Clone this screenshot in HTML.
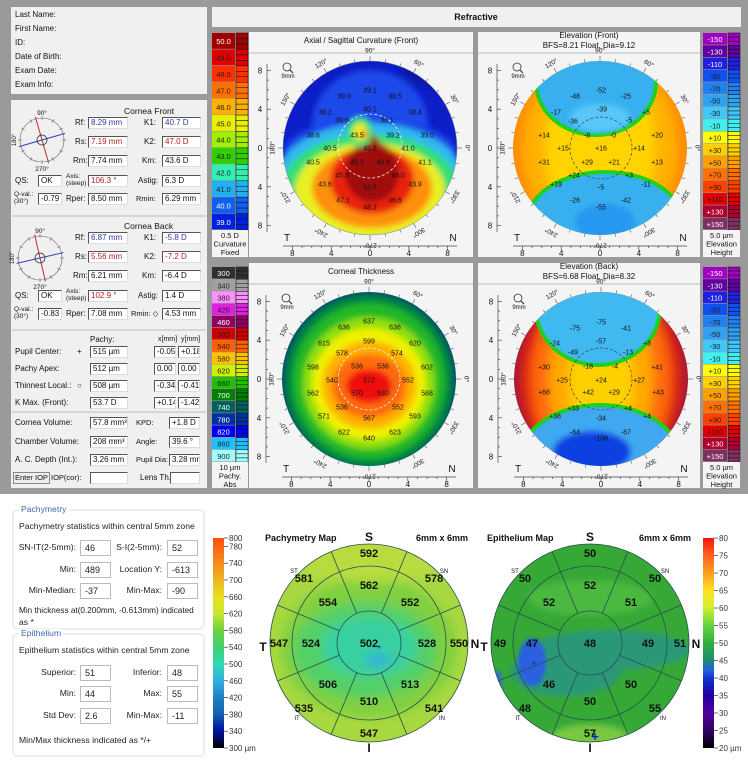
<!DOCTYPE html>
<html><head><meta charset="utf-8">
<style>
*{margin:0;padding:0;box-sizing:border-box}
body{width:748px;height:767px;position:relative;overflow:hidden;background:#fff;font-family:"Liberation Sans",Arial,sans-serif}
#svg{position:absolute;left:0;top:0}
.l{position:absolute;font-size:8px;color:#111;white-space:nowrap;line-height:1}
.f{position:absolute;height:12px;background:#fff;border-top:1px solid #555;border-left:1px solid #555;border-right:1px solid #ddd;border-bottom:1px solid #ddd;font-size:8px;line-height:10px;padding-left:2px;white-space:nowrap;overflow:hidden;color:#111}
.bf{position:absolute;height:16px;background:#fff;border:1px solid #bbb;font-size:9px;line-height:14px;padding-left:4px;color:#222}
.bl{position:absolute;font-size:8.6px;color:#222;white-space:nowrap;line-height:1}
</style></head>
<body>
<svg id="svg" width="748" height="767" xmlns="http://www.w3.org/2000/svg"></svg>
<div id="html"></div>
<script>
// ---------- data ----------
const axialScale=[50,49,48,47,46,45,44,43,42,41,40,39];
const axialColors=['#a00000','#e00000','#ff3000','#ff7000','#ffb000','#e8f000','#a0f000','#30d000','#30f0b0','#20b0f0','#1060f0','#0020e0'];
const elevScale=['-150','-130','-110','-90','-70','-50','-30','-10','+10','+30','+50','+70','+90','+110','+130','+150'];
const elevColors=['#a000c0','#6000a0','#2020e0','#1050f0','#2080f0','#30a0f0','#40c8f8','#40f0f0','#ffff00','#ffd000','#ffa000','#ff7000','#ff4000','#e00000','#b00030','#803060'];
const thickScale=[300,340,380,420,460,500,540,580,620,660,700,740,780,820,860,900];
const thickColors=['#303030','#a0a0a0','#ff90ff','#e020e0','#900060','#d00000','#ff6000','#ffc000','#d0f000','#20c000','#008000','#006060','#0030a0','#0000f0','#20c0ff','#a0ffff'];
const pachyCenter=502;
const pachyInner=[562,552,528,513,510,506,524,554]; // S,SN,N,IN,I,IT,T,ST
const pachyOuter=[592,578,550,541,547,535,547,581];
const epiCenter=48;
const epiInner=[52,51,49,50,50,46,47,52];
const epiOuter=[50,50,51,55,57,48,49,50];
const pachyTicks=[800,780,740,700,660,620,580,540,500,460,420,380,340,300];
const epiTicks=[80,75,70,65,60,55,50,45,40,35,30,25,20];
const axialVals=[['39.0',344,96],['39.1',370,90],['38.5',395,96],['38.2',325,112],['40.1',370,109],['38.4',415,112],['39.6',342,120],['38.1',387,120],['38.6',313,135],['43.5',357,135],['39.2',393,135],['39.0',427,135],['40.5',330,148],['45.1',370,148],['41.0',408,148],['40.5',313,162],['45.3',357,162],['49.9',383,162],['41.1',425,162],['45.9',342,175],['48.0',398,175],['43.6',325,184],['52.8',370,187],['43.9',415,184],['47.1',343,200],['46.6',395,200],['48.2',370,207]];
const elevFVals=[['-48',575,96],['-52',601,90],['-25',626,96],['-17',556,112],['-39',602,109],['+5',646,112],['-36',573,121],['-5',629,120],['+14',544,135],['-8',587,135],['-0',613,135],['+20',657,135],['+15',563,148],['+16',601,148],['+14',639,148],['+31',544,162],['+29',587,162],['+21',614,162],['+13',657,162],['+24',574,175],['+3',629,175],['+19',556,184],['-5',601,187],['-11',646,184],['-26',575,200],['-55',601,207],['-42',626,200]];
const elevBVals=[['-75',575,328],['-75',601,322],['-41',626,328],['-24',555,343],['-57',601,341],['+8',647,343],['-49',573,352],['-13',628,352],['+30',544,367],['-18',588,366],['-4',615,366],['+41',657,367],['+25',562,380],['+24',601,380],['+27',639,380],['+68',544,392],['+42',588,392],['+29',614,392],['+43',658,392],['+33',573,408],['+4',628,408],['+38',555,416],['-34',601,418],['+4',647,416],['-64',575,432],['-106',601,438],['-67',626,432]];
const thickVals=[['637',369,321],['636',344,327],['636',395,327],['615',324,343],['599',369,341],['620',415,343],['578',342,353],['574',397,353],['598',313,367],['536',357,366],['536',383,366],['602',427,367],['540',332,380],['572',369,380],['552',408,380],['562',313,393],['570',357,393],['530',383,393],['588',427,393],['536',342,407],['552',398,407],['571',324,416],['567',369,418],['593',415,416],['622',344,432],['623',395,432],['640',369,438]];

// ---------- helpers ----------
const NS='http://www.w3.org/2000/svg';
const svg=document.getElementById('svg');
const H=document.getElementById('html');
function mk(tag,attrs,parent,name){
  const el=document.createElementNS(NS,tag);
  for(const k in attrs) el.setAttribute(k,attrs[k]);
  
  
  (parent||svg).appendChild(el);return el;
}
function tx(x,y,s,name,attrs,parent){
  const a=Object.assign({x:x,y:y,'font-size':7,'font-family':'Liberation Sans, Arial, sans-serif','text-anchor':'middle',fill:'#111'},attrs||{});
  const t=mk('text',a,parent,name);t.textContent=s;return t;
}
function lbl(x,y,s,name,extra){
  const d=document.createElement('div');d.className='l';d.style.left=x+'px';d.style.top=(y-4)+'px';d.textContent=s;
  if(extra) d.style.cssText+=extra;
  
  
  H.appendChild(d);return d;
}
function fld(x,y,w,s,name,color){
  const d=document.createElement('div');d.className='f';d.style.left=x+'px';d.style.top=(y-6)+'px';d.style.width=w+'px';d.textContent=s;
  if(color) d.style.color=color;
  
  
  H.appendChild(d);return d;
}
function blbl(x,y,s,name,right){
  const d=document.createElement('div');d.className='bl';d.style.top=(y-5)+'px';d.textContent=s;
  if(right){d.style.right=(748-x)+'px';}else d.style.left=x+'px';
  
  
  H.appendChild(d);return d;
}
function bfld(x,y,s,name){
  const d=document.createElement('div');d.className='bf';d.style.left=x+'px';d.style.top=(y-8)+'px';d.style.width='31px';d.textContent=s;
  
  
  H.appendChild(d);return d;
}

// ---------- background panels ----------
mk('rect',{x:0,y:0,width:748,height:494,fill:'#9a9a9a'},svg,'top-background');
mk('rect',{x:11,y:7,width:196,height:87,fill:'#f0f0f0'},svg,'patient-info-panel');
mk('rect',{x:11,y:100,width:196,height:388,fill:'#f0f0f0'},svg,'measurement-panel');
mk('rect',{x:212,y:7,width:529,height:20,fill:'#f0f0f0'},svg,'refractive-header');
tx(476,20,'Refractive','refractive-title',{'font-size':9,'font-weight':'bold'});
const defs=mk('defs',{},svg,'defs');
const flt=mk('filter',{id:'blur',x:'-20%',y:'-20%',width:'140%',height:'140%'},defs,'blur-filter');
mk('feGaussianBlur',{stdDeviation:3},flt,'blur');
const flt2=mk('filter',{id:'blur2',x:'-20%',y:'-20%',width:'140%',height:'140%'},defs,'blur-filter-2');
mk('feGaussianBlur',{stdDeviation:5},flt2,'blur2');
const flt3=mk('filter',{id:'blur1',x:'-20%',y:'-20%',width:'140%',height:'140%'},defs,'blur-filter-1');
mk('feGaussianBlur',{stdDeviation:1.5},flt3,'blur1');

function colorBar(x,y,w,h,vals,cols,name,footer){
  const n=vals.length,bh=h/n;
  vals.forEach((v,i)=>{
    mk('rect',{x:x,y:y+i*bh,width:w,height:bh-0.6,fill:cols[i]},svg,'colorbar-box');
    tx(x+w/2,y+i*bh+bh/2+3,String(v),'colorbar-label',{'font-size':7.5,fill:(['#303030','#900060','#0030a0','#0000f0','#006060','#2020e0','#6000a0','#a000c0','#803060','#b00030','#a00000','#0020e0','#1060f0','#008000'].includes(cols[i])?'#fff':'#222')});
    for(let k=0;k<3;k++){
      mk('rect',{x:x+w+1,y:y+i*bh+k*bh/3,width:12,height:bh/3,fill:cols[i],stroke:'#111','stroke-width':0.5},svg,'colorbar-strip');
    }
  });
  mk('rect',{x:x,y:y+h,width:w+13,height:257-(y+h)+(y>200?231:0),fill:'#f4f4f4'},svg,name+'-footer-bg');
  const fy=y+h;
  footer.forEach((s,i)=>tx(x+(w+13)/2,fy+8+i*8.5,s,name+'-footer-text',{'font-size':7.5}));
}
function mapPanel(x,y,w,h,titles,name){
  mk('rect',{x:x,y:y,width:w,height:h,fill:'#f4f4f4'},svg,name+'-panel');
  titles.forEach((t,i)=>tx(x+w/2,y+11+i*10-(titles.length>1?5:0),t,name+'-title',{'font-size':8}));
  mk('line',{x1:x,x2:x+w,y1:y+21,y2:y+21,stroke:'#bbb'},svg,name+'-title-rule');
}
function mapFrame(cx,cy,r,name){
  mk('line',{x1:cx-103,x2:cx-103,y1:cy-84,y2:cy+84,stroke:'#444','stroke-width':0.7},svg,name+'-y-axis');
  for(let mm=-8;mm<=8;mm+=1){
    const yy=cy+mm*9.7;
    mk('line',{x1:cx-103,x2:cx-(mm%4===0?99:101),y1:yy,y2:yy,stroke:'#444','stroke-width':0.7},svg,name+'-y-tick');
    if(mm%4===0) tx(cx-110,yy+3,String(Math.abs(mm)),name+'-y-tick-label',{'font-size':8});
  }
  mk('line',{x1:cx-87,x2:cx+87,y1:cy+98,y2:cy+98,stroke:'#444','stroke-width':0.7},svg,name+'-x-axis');
  for(let mm=-8;mm<=8;mm+=1){
    const xx=cx+mm*9.7;
    mk('line',{x1:xx,x2:xx,y1:cy+98,y2:cy+(mm%4===0?102:100),stroke:'#444','stroke-width':0.7},svg,name+'-x-tick');
    if(mm%4===0) tx(xx,cy+108,String(Math.abs(mm)),name+'-x-tick-label',{'font-size':8});
  }
  tx(cx-83,cy+93,'T',name+'-temporal-label',{'font-size':10});
  tx(cx+83,cy+93,'N',name+'-nasal-label',{'font-size':10});
  mk('circle',{cx:cx-83,cy:cy-81,r:4,fill:'none',stroke:'#333','stroke-width':0.8},svg,name+'-zoom-icon');
  mk('line',{x1:cx-80,y1:cy-78,x2:cx-77,y2:cy-75,stroke:'#333','stroke-width':1.2},svg,name+'-zoom-handle');
  tx(cx-82,cy-70,'9mm',name+'-zoom-label',{'font-size':6});
  for(let a=0;a<360;a+=10){
    const rad=a*Math.PI/180,l=a%30===0?5:3;
    mk('line',{x1:cx+r*Math.cos(rad),y1:cy-r*Math.sin(rad),x2:cx+(r+l)*Math.cos(rad),y2:cy-(r+l)*Math.sin(rad),stroke:'#555','stroke-width':0.6},svg,name+'-degree-tick');
    if(a%30===0){
      const R=r+11,px=cx+R*Math.cos(rad),py=cy-R*Math.sin(rad);
      tx(px,py+2.5,a+'°',name+'-degree-label',{'font-size':6.5,transform:'rotate('+(90-a)+' '+px+' '+py+')'});
    }
  }
}
function clip(id,cx,cy,r){const c=mk('clipPath',{id:id},defs,'clip');mk('circle',{cx:cx,cy:cy,r:r},c,'clip-circle');}
function layerGroup(id,name){return mk('g',{'clip-path':'url(#'+id+')'},svg,name);}
function blobs(g,list,f){const gg=mk('g',{filter:'url(#'+(f||'blur')+')'},g,'blob-group');list.forEach(b=>mk('ellipse',{cx:b[0],cy:b[1],rx:b[2],ry:b[3],fill:b[4]},gg,'color-region'));return gg;}
function values(list,name){list.forEach(v=>tx(v[1],v[2]+2.5,v[0],name,{'font-size':7}));}

// ---------- top-left axial ----------
colorBar(212,33,23,197,axialScale.map(v=>v.toFixed(1)),axialColors,'axial-colorbar',['0.5 D','Curvature','Fixed']);
mapPanel(249,32,224,225,['Axial / Sagittal Curvature (Front)'],'axial-map');
clip('cA',370,148,87);
let g=layerGroup('cA','axial-map-colors');
mk('rect',{x:270,y:50,width:200,height:200,fill:'#0c1ec8'},g,'axial-base');
blobs(g,[[370,125,58,55,'#1a48ea'],[370,150,85,30,'#1a44e8'],[440,68,40,20,'#0a12a8'],[370,183,96,60,'#30b8f0'],[370,188,88,54,'#30e070'],[370,190,75,47,'#e8f020'],[372,188,60,40,'#ff9010'],[372,180,42,34,'#e82010'],[372,172,27,30,'#a00808'],[372,150,8,16,'#a00808'],[360,132,13,15,'#30e070'],[360,132,7,9,'#f0f020'],[364,134,4,4,'#ff9010']]);
mk('circle',{cx:370,cy:148,r:87,fill:'none',stroke:'#888','stroke-width':0.5},svg,'axial-outline');
mk('circle',{cx:370,cy:146,r:32,fill:'none',stroke:'#eee','stroke-width':0.8,'stroke-dasharray':'3,2'},svg,'axial-pupil-circle');
values(axialVals,'axial-value');
mapFrame(370,148,87,'axial');

// ---------- top-right elevation front ----------
mapPanel(478,32,222,225,['Elevation (Front)','BFS=8.21 Float, Dia=9.12'],'elevation-front');
colorBar(703,33,24,197,elevScale,elevColors,'elevation-front-colorbar',['5.0 µm','Elevation','Height']);
clip('cF',600,148,87);
g=layerGroup('cF','elevation-front-colors');
mk('rect',{x:500,y:50,width:200,height:200,fill:'#ff8c00'},g,'elev-front-base');
blobs(g,[[600,148,78,95,'#ffb000'],[600,148,55,90,'#ffd400']],'blur2');
mk('ellipse',{cx:596,cy:82,rx:60,ry:53,fill:'#38b0f0',stroke:'#20d020','stroke-width':4},g,'elev-front-top-cap');
mk('ellipse',{cx:600,cy:118,rx:30,ry:14,fill:'#58c8f8',filter:'url(#blur)'},g,'elev-front-top-light');
mk('ellipse',{cx:605,cy:222,rx:78,ry:50,fill:'#38b0f0',stroke:'#20d020','stroke-width':4},g,'elev-front-bottom-cap');
mk('ellipse',{cx:605,cy:222,rx:30,ry:18,fill:'#2898f0',filter:'url(#blur)'},g,'elev-front-bottom-dark');
mk('circle',{cx:601,cy:148,r:31,fill:'none',stroke:'#444','stroke-width':0.7,'stroke-dasharray':'3,2'},svg,'elev-front-pupil-circle');
values(elevFVals,'elev-front-value');
mapFrame(600,148,87,'elev-front');

// ---------- bottom-left thickness ----------
colorBar(212,267,23,195,thickScale,thickColors,'thickness-colorbar',['10 µm','Pachy.','Abs']);
mapPanel(249,263,224,225,['Corneal Thickness'],'thickness-map');
clip('cT',369,379,87);
g=layerGroup('cT','thickness-colors');
mk('rect',{x:270,y:280,width:200,height:200,fill:'#00506a'},g,'thickness-base');
blobs(g,[[369,381,84,86,'#008a40'],[369,381,76,78,'#20b828'],[369,383,66,66,'#90e010'],[369,384,57,56,'#f0f000'],[369,385,47,44,'#ffb000'],[369,386,37,32,'#ff6a10'],[369,386,23,17,'#f01010']]);
mk('circle',{cx:369,cy:379,r:31,fill:'none',stroke:'#eee','stroke-width':0.8,'stroke-dasharray':'3,2'},svg,'thickness-pupil-circle');
values(thickVals,'thickness-value');
mapFrame(369,379,87,'thickness');

// ---------- bottom-right elevation back ----------
mapPanel(478,263,222,225,['Elevation (Back)','BFS=6.68 Float, Dia=8.32'],'elevation-back');
colorBar(703,267,24,195,elevScale,elevColors,'elevation-back-colorbar',['5.0 µm','Elevation','Height']);
clip('cB',601,379,87);
g=layerGroup('cB','elevation-back-colors');
mk('rect',{x:500,y:280,width:200,height:200,fill:'#a01840'},g,'elev-back-base');
blobs(g,[[601,379,82,100,'#e02010'],[601,379,70,100,'#ff6a10'],[601,379,52,100,'#ffa800'],[601,379,32,90,'#ffd000']],'blur2');
mk('ellipse',{cx:598,cy:308,rx:62,ry:57,fill:'#40b8f0',stroke:'#20d020','stroke-width':4},g,'elev-back-top-cap');
mk('ellipse',{cx:600,cy:463,rx:82,ry:58,fill:'#40a8f0',stroke:'#20d020','stroke-width':4},g,'elev-back-bottom-cap');
mk('ellipse',{cx:592,cy:452,rx:38,ry:20,fill:'#1040e0',filter:'url(#blur)'},g,'elev-back-bottom-dark');
mk('circle',{cx:601,cy:379,r:31,fill:'none',stroke:'#444','stroke-width':0.7,'stroke-dasharray':'3,2'},svg,'elev-back-pupil-circle');
values(elevBVals,'elev-back-value');
mapFrame(601,379,87,'elev-back');

// ---------- compasses ----------
function compass(cx,cy,steep,name){
  mk('circle',{cx:cx,cy:cy,r:22,fill:'none',stroke:'#666','stroke-width':0.6},svg,name+'-ring');
  for(let a=0;a<360;a+=30){const r=a*Math.PI/180;mk('line',{x1:cx+20*Math.cos(r),y1:cy-20*Math.sin(r),x2:cx+24*Math.cos(r),y2:cy-24*Math.sin(r),stroke:'#666','stroke-width':0.6},svg,name+'-tick');}
  const s=steep*Math.PI/180,f=(steep-90)*Math.PI/180;
  mk('line',{x1:cx+24*Math.cos(s),y1:cy-24*Math.sin(s),x2:cx-24*Math.cos(s),y2:cy+24*Math.sin(s),stroke:'#c03030','stroke-width':1},svg,name+'-steep-axis');
  mk('line',{x1:cx+24*Math.cos(f),y1:cy-24*Math.sin(f),x2:cx-24*Math.cos(f),y2:cy+24*Math.sin(f),stroke:'#3040c0','stroke-width':1},svg,name+'-flat-axis');
  mk('circle',{cx:cx,cy:cy,r:5,fill:'none',stroke:'#222','stroke-width':0.7},svg,name+'-center');
  tx(cx,cy-25,'90°',name+'-label-90',{'font-size':6.5});
  tx(cx,cy+31,'270°',name+'-label-270',{'font-size':6.5});
  tx(cx-28,cy+2,'180°',name+'-label-180',{'font-size':6,transform:'rotate(-90 '+(cx-28)+' '+cy+')'});
}
compass(42,140,106,'front-compass');
compass(40,258,103,'back-compass');
[216,330,412].forEach(y=>mk('line',{x1:12,x2:206,y1:y,y2:y,stroke:'#bbb'},svg,'section-divider'));

// ---------- bottom area ----------
mk('rect',{x:13,y:510,width:191,height:119,rx:4,fill:'#fff',stroke:'#ddd'},svg,'pachymetry-stats-box');
mk('rect',{x:13,y:634,width:191,height:122,rx:4,fill:'#fff',stroke:'#ddd'},svg,'epithelium-stats-box');
function gradBar(id,x,y,w,h,stops,name){
  const lg=mk('linearGradient',{id:id,x1:0,y1:0,x2:0,y2:1},defs,name+'-gradient');
  stops.forEach(s=>mk('stop',{offset:s[0],'stop-color':s[1]},lg,'gradient-stop'));
  mk('rect',{x:x,y:y,width:w,height:h,fill:'url(#'+id+')'},svg,name);
}
gradBar('gp',213,538,11,210,[[0,'#ff5010'],[0.16,'#f0a020'],[0.28,'#e8e020'],[0.36,'#c8e830'],[0.44,'#70d040'],[0.52,'#40d070'],[0.6,'#30d8b0'],[0.68,'#30b0e0'],[0.76,'#2080c0'],[0.84,'#1060b0'],[0.92,'#0010a0'],[1,'#000']],'pachymetry-colorbar');
pachyTicks.forEach(v=>{const y=538+(800-v)*210/500;mk('line',{x1:224,x2:228,y1:y,y2:y,stroke:'#333','stroke-width':0.7},svg,'pachy-colorbar-tick');tx(229,y+3,v===300?'300 µm':String(v),'pachy-colorbar-label',{'font-size':8,'text-anchor':'start',fill:'#333'});});
gradBar('ge',703,538,11,210,[[0,'#ff1010'],[0.08,'#ff6020'],[0.17,'#ffa020'],[0.25,'#ffe020'],[0.33,'#d0f030'],[0.42,'#60d040'],[0.5,'#30b040'],[0.58,'#208a70'],[0.63,'#2060e0'],[0.67,'#1030d0'],[0.75,'#2000a0'],[0.83,'#5000a0'],[0.92,'#300060'],[1,'#000']],'epithelium-colorbar');
epiTicks.forEach(v=>{const y=538+(80-v)*210/60;mk('line',{x1:714,x2:718,y1:y,y2:y,stroke:'#333','stroke-width':0.7},svg,'epi-colorbar-tick');tx(719,y+3,v===20?'20 µm':String(v),'epi-colorbar-label',{'font-size':8,'text-anchor':'start',fill:'#333'});});

function sectorMap(cx,cy,center,inner,outer,name,id,layers){
  clip(id,cx,cy,99);
  const gg=layerGroup(id,name+'-colors');
  layers(gg);
  [32,77,99].forEach(r=>mk('circle',{cx:cx,cy:cy,r:r,fill:'none',stroke:'#2a5050','stroke-width':0.8},svg,name+'-ring'));
  for(let k=0;k<8;k++){const a=(22.5+45*k)*Math.PI/180;mk('line',{x1:cx+32*Math.cos(a),y1:cy-32*Math.sin(a),x2:cx+99*Math.cos(a),y2:cy-99*Math.sin(a),stroke:'#2a5050','stroke-width':0.8},svg,name+'-sector-line');}
  tx(cx,cy+4,String(center),name+'-center-value',{'font-size':11,'font-weight':'bold'});
  inner.forEach((v,i)=>{const a=(90-45*i)*Math.PI/180;tx(cx+58*Math.cos(a),cy-58*Math.sin(a)+4,String(v),name+'-inner-value',{'font-size':11,'font-weight':'bold'});});
  outer.forEach((v,i)=>{const a=(90-45*i)*Math.PI/180;const R=i%2?92:90;tx(cx+R*Math.cos(a),cy-R*Math.sin(a)+4,String(v),name+'-outer-value',{'font-size':11,'font-weight':'bold'});});
  tx(cx,541,'S',name+'-superior-label',{'font-size':12,'font-weight':'bold'});
  tx(cx,752,'I',name+'-inferior-label',{'font-size':12,'font-weight':'bold'});
  tx(cx-106,651,'T',name+'-temporal-label',{'font-size':12,'font-weight':'bold'});
  tx(cx+106,648,'N',name+'-nasal-label',{'font-size':12,'font-weight':'bold'});
  tx(cx-75,573,'ST',name+'-st-label',{'font-size':6});
  tx(cx+75,573,'SN',name+'-sn-label',{'font-size':6});
  tx(cx-72,720,'IT',name+'-it-label',{'font-size':6});
  tx(cx+73,720,'IN',name+'-in-label',{'font-size':6});
}
sectorMap(369,643,pachyCenter,pachyInner,pachyOuter,'pachymetry-map','cP',gg=>{
  mk('rect',{x:260,y:540,width:220,height:210,fill:'#a8d840'},gg,'pachy-base');
  blobs(gg,[[369,648,88,70,'#80d040'],[365,650,72,48,'#52d068'],[369,647,48,30,'#38d0a0'],[378,660,12,7,'#30b0d8'],[369,560,80,22,'#b8dc40']],'blur2');
});
mk('text',{x:379,y:652,'font-size':10,fill:'#1020d0','text-anchor':'middle'},svg,'pachy-min-marker').textContent='*';
sectorMap(590,643,epiCenter,epiInner,epiOuter,'epithelium-map','cE',gg=>{
  mk('rect',{x:480,y:540,width:220,height:210,fill:'#36a836'},gg,'epi-base');
  blobs(gg,[[590,598,62,18,'#4cb840'],[610,650,80,20,'#2a9878'],[565,672,55,24,'#2a9878'],[590,738,40,14,'#78c840']],'blur');
  blobs(gg,[[532,662,14,24,'#2a60e0'],[497,682,5,12,'#3070d0']],'blur1');
});
mk('text',{x:534,y:668,'font-size':10,fill:'#1020d0','text-anchor':'middle'},svg,'epi-min-marker').textContent='*';
mk('text',{x:595,y:741,'font-size':13,'font-weight':'bold',fill:'#1020d0','text-anchor':'middle'},svg,'epi-max-marker').textContent='+';
tx(265,541,'Pachymetry Map','pachymetry-map-title',{'font-size':9,'font-weight':'bold','text-anchor':'start'});
tx(442,541,'6mm x 6mm','pachymetry-map-size',{'font-size':9,'font-weight':'bold'});
tx(487,541,'Epithelium Map','epithelium-map-title',{'font-size':9,'font-weight':'bold','text-anchor':'start'});
tx(665,541,'6mm x 6mm','epithelium-map-size',{'font-size':9,'font-weight':'bold'});

// ---------- HTML text ----------
['Last Name:','First Name:','ID:','Date of Birth:','Exam Date:','Exam Info:'].forEach((s,i)=>lbl(15,15+i*14,s,'patient-field-label'));
lbl(124,111,'Cornea Front','cornea-front-title',';font-size:8.5px');
lbl(124,226,'Cornea Back','cornea-back-title',';font-size:8.5px');
function kSection(y0,vals,name){
  const ys=[y0+12,y0+31,y0+50,y0+70,y0+88];
  lbl(75,ys[0],'Rf:',name+'-rf-label');fld(88,ys[0],40,vals[0],name+'-rf','#2a3aa0');
  lbl(144,ys[0],'K1:',name+'-k1-label');fld(162,ys[0],39,vals[1],name+'-k1','#2a3aa0');
  lbl(75,ys[1],'Rs:',name+'-rs-label');fld(88,ys[1],40,vals[2],name+'-rs','#b02020');
  lbl(144,ys[1],'K2:',name+'-k2-label');fld(162,ys[1],39,vals[3],name+'-k2','#b02020');
  lbl(73,ys[2],'Rm:',name+'-rm-label');fld(88,ys[2],40,vals[4],name+'-rm');
  lbl(142,ys[2],'Km:',name+'-km-label');fld(162,ys[2],39,vals[5],name+'-km');
  lbl(15,ys[3],'QS:',name+'-qs-label');fld(38,ys[3],24,'OK',name+'-qs');
  lbl(66,ys[3]-3,'Axis:',name+'-axis-label',';font-size:6.5px');lbl(66,ys[3]+4,'(steep)',name+'-axis-sub',';font-size:6.5px');
  fld(88,ys[3],40,vals[6],name+'-axis','#b02020');
  lbl(138,ys[3],'Astig:',name+'-astig-label');fld(162,ys[3],39,vals[7],name+'-astig');
  lbl(14,ys[4]-3,'Q-val.:',name+'-qval-label',';font-size:6.5px');lbl(14,ys[4]+4,'(30°)',name+'-qval-sub',';font-size:6.5px');
  fld(38,ys[4],24,vals[8],name+'-qval');
  lbl(66,ys[4],'Rper:',name+'-rper-label');fld(88,ys[4],40,vals[9],name+'-rper');
  lbl(vals[11].length>5?131:136,ys[4],vals[11],name+'-rmin-label',';font-size:7.5px');fld(162,ys[4],39,vals[10],name+'-rmin');
}
kSection(111,['8.29 mm','40.7 D','7.19 mm','47.0 D','7.74 mm','43.6 D','106.3 °','6.3 D','-0.79','8.50 mm','6.29 mm','Rmin:'],'front');
kSection(226,['6.87 mm','-5.8 D','5.56 mm','-7.2 D','6.21 mm','-6.4 D','102.9 °','1.4 D','-0.83','7.08 mm','4.53 mm','Rmin: ◇'],'back');
lbl(90,340,'Pachy:','pachy-header');lbl(158,340,'x[mm]','x-header',';font-size:7px');lbl(181,340,'y[mm]','y-header',';font-size:7px');
[['Pupil Center:','+','515 µm','-0.05','+0.18'],['Pachy Apex:','','512 µm','0.00','0.00'],['Thinnest Local.:','○','508 µm','-0.34','-0.41'],['K Max. (Front):','','53.7 D','+0.14','-1.42']].forEach((r,i)=>{
  const y=352+i*17;
  lbl(15,y,r[0],'location-label');lbl(77,y,r[1],'location-symbol');
  fld(90,y,38,r[2],'location-pachy');fld(154,y,22,r[3],'location-x');fld(178,y,22,r[4],'location-y');
});
[['Cornea Volume:','57.8 mm³','KPD:','+1.8 D'],['Chamber Volume:','208 mm³','Angle:','39.6 °'],['A. C. Depth (Int.):','3.26 mm','Pupil Dia:','3.28 mm']].forEach((r,i)=>{
  const y=423+i*18.5;
  lbl(15,y,r[0],'volume-label');fld(90,y,38,r[1],'volume-value');lbl(136,y,r[2],'volume-label-2',';font-size:7.5px');fld(169,y,31,r[3],'volume-value-2');
});
const btn=lbl(13,478,'Enter IOP','enter-iop-button',';border:1px solid #888;padding:1px;background:#eee;top:472px;font-size:7.5px');

lbl(51,478,'IOP(cor):','iop-label',';font-size:7.5px');fld(90,478,38,'','iop-field');lbl(140,478,'Lens Th.:','lens-label');fld(170,478,30,'','lens-field');

// bottom stats
const pl=blbl(19,510,'Pachymetry','pachymetry-legend');pl.style.color='#3a6ab0';pl.style.background='#fff';pl.style.padding='0 2px';
blbl(19,527,'Pachymetry statistics within central 5mm zone','pachymetry-description');
[[548,'SN-IT(2-5mm):','46','S-I(2-5mm):','52'],[570,'Min:','489','Location Y:','-613'],[591,'Min-Median:','-37','Min-Max:','-90']].forEach(r=>{
  blbl(76,r[0],r[1],'pachy-stat-label',true);bfld(80,r[0],r[2],'pachy-stat-value');
  blbl(162,r[0],r[3],'pachy-stat-label-2',true);bfld(167,r[0],r[4],'pachy-stat-value-2');
});
blbl(19,612,'Min thickness at(0.200mm, -0.613mm) indicated','pachy-min-note').style.fontSize='8.2px';
blbl(19,623,'as *','pachy-min-note-2');
const el2=blbl(19,634,'Epithelium','epithelium-legend');el2.style.color='#3a6ab0';el2.style.background='#fff';el2.style.padding='0 2px';
blbl(19,651,'Epithelium statistics within central 5mm zone','epithelium-description');
[[673,'Superior:','51','Inferior:','48'],[694,'Min:','44','Max:','55'],[716,'Std Dev:','2.6','Min-Max:','-11']].forEach(r=>{
  blbl(76,r[0],r[1],'epi-stat-label',true);bfld(80,r[0],r[2],'epi-stat-value');
  blbl(162,r[0],r[3],'epi-stat-label-2',true);bfld(167,r[0],r[4],'epi-stat-value-2');
});
blbl(19,741,'Min/Max thickness indicated as */+','epi-minmax-note');
</script>
</body></html>
